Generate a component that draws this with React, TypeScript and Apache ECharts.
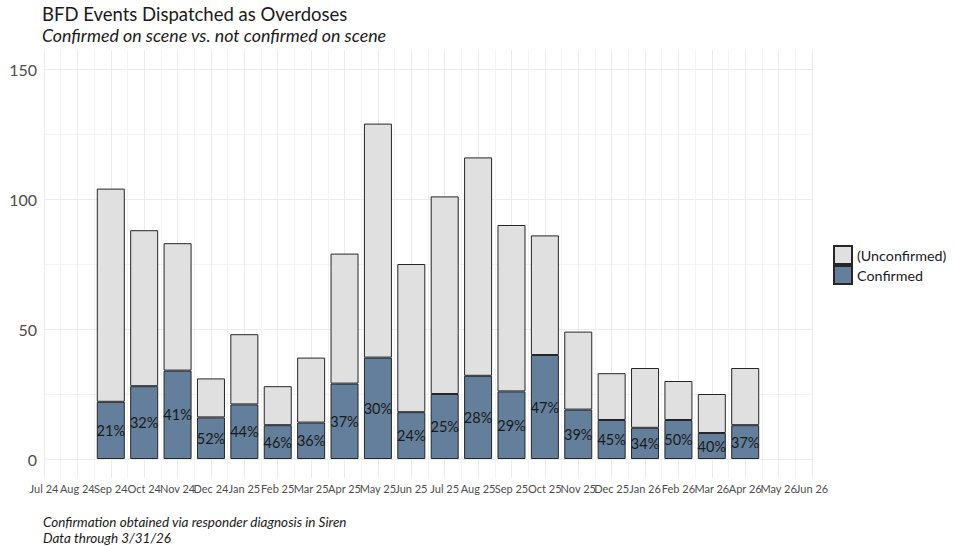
import React, { useEffect, useRef } from "react";
import * as echarts from "echarts";

const monthLabels = [
  "Jul 24", "Aug 24", "Sep 24", "Oct 24", "Nov 24", "Dec 24",
  "Jan 25", "Feb 25", "Mar 25", "Apr 25", "May 25", "Jun 25",
  "Jul 25", "Aug 25", "Sep 25", "Oct 25", "Nov 25", "Dec 25",
  "Jan 26", "Feb 26", "Mar 26", "Apr 26", "May 26", "Jun 26",
];

const barMonths = [
  "Sep 24", "Oct 24", "Nov 24", "Dec 24", "Jan 25", "Feb 25", "Mar 25",
  "Apr 25", "May 25", "Jun 25", "Jul 25", "Aug 25", "Sep 25", "Oct 25",
  "Nov 25", "Dec 25", "Jan 26", "Feb 26", "Mar 26", "Apr 26",
];

const confirmed = [22, 28, 34, 16, 21, 13, 14, 29, 39, 18, 25, 32, 26, 40, 19, 15, 12, 15, 10, 13];
const unconfirmed = [82, 60, 49, 15, 27, 15, 25, 50, 90, 57, 76, 84, 64, 46, 30, 18, 23, 15, 15, 22];

const yMin = 0;
const yMax = 150;
const yInterval = 50;

const titleText = "BFD Events Dispatched as Overdoses";
const subtitleText = "Confirmed on scene vs. not confirmed on scene";
const captionLines = ["Confirmation obtained via responder diagnosis in Siren", "Data through 3/31/26"];

export default function App() {
  const ref = useRef<HTMLDivElement>(null);

  useEffect(() => {
    if (!ref.current) return;
    const chart = echarts.init(ref.current, null, { renderer: "svg" });
    const font = "Lato";
    const pct = confirmed.map((c, i) => Math.round((c / (c + unconfirmed[i])) * 100));
    const confByMonth = monthLabels.map((m) => {
      const i = barMonths.indexOf(m);
      return i >= 0 ? confirmed[i] : "-";
    });
    const uncByMonth = monthLabels.map((m) => {
      const i = barMonths.indexOf(m);
      return i >= 0 ? unconfirmed[i] : "-";
    });
    const pctByMonth = monthLabels.map((m) => {
      const i = barMonths.indexOf(m);
      return i >= 0 ? pct[i] : null;
    });
    const last = monthLabels.length - 1;

    const option: any = {
      animation: false,
      backgroundColor: "#ffffff",
      textStyle: { fontFamily: font },
      title: {
        left: 42,
        top: 4,
        padding: 0,
        text: titleText,
        textStyle: { fontFamily: font, fontSize: 18.5, fontWeight: "normal", color: "#1a1a1a" },
        subtext: subtitleText,
        subtextStyle: { fontFamily: font, fontSize: 17.8, fontStyle: "italic", color: "#1a1a1a" },
        itemGap: 3,
      },
      legend: {
        orient: "vertical",
        left: 833,
        top: 245,
        padding: 0,
        itemWidth: 18,
        itemHeight: 18,
        itemGap: 0,
        icon: "rect",
        data: ["(Unconfirmed)", "Confirmed"],
        textStyle: { fontFamily: font, fontSize: 14.3, color: "#1a1a1a", lineHeight: 18 },
      },
      grid: [
        { left: 44, right: 144, top: 50, bottom: 68, containLabel: false, outerBoundsMode: "none" },
        { left: 44, right: 144, top: 69, bottom: 87, containLabel: false, outerBoundsMode: "none" },
      ],
      xAxis: [
        {
          type: "value",
          gridIndex: 0,
          min: 0,
          max: last,
          interval: 1,
          axisLine: { show: false },
          axisTick: { show: false },
          axisLabel: { show: false },
          splitLine: { show: true, lineStyle: { color: "#ebebeb", width: 1 } },
          minorTick: { show: false, splitNumber: 2 },
          minorSplitLine: { show: true, lineStyle: { color: "#f3f3f3", width: 1 } },
        },
        {
          type: "category",
          gridIndex: 1,
          data: monthLabels,
          boundaryGap: false,
          axisLine: { show: false },
          axisTick: { show: false },
          splitLine: { show: false },
          axisLabel: {
            interval: 0,
            fontFamily: font,
            fontSize: 11,
            color: "#4d4d4d",
            margin: 24,
          },
        },
      ],
      yAxis: [
        {
          type: "value",
          gridIndex: 0,
          min: 0,
          max: 1,
          show: false,
          splitLine: { show: false },
        },
        {
          type: "value",
          gridIndex: 1,
          min: yMin,
          max: yMax,
          interval: yInterval,
          axisLine: { show: false },
          axisTick: { show: false },
          axisLabel: { fontFamily: font, fontSize: 16, color: "#4d4d4d", margin: 7 },
          splitLine: { show: true, lineStyle: { color: "#ebebeb", width: 1 } },
          minorTick: { show: false, splitNumber: 2 },
          minorSplitLine: { show: true, lineStyle: { color: "#f3f3f3", width: 1 } },
        },
      ],
      series: [
        {
          type: "scatter",
          xAxisIndex: 0,
          yAxisIndex: 0,
          data: [],
          silent: true,
        },
        {
          name: "Confirmed",
          type: "bar",
          stack: "total",
          xAxisIndex: 1,
          yAxisIndex: 1,
          barWidth: 28,
          data: confByMonth,
          itemStyle: { color: "#637f9c", borderColor: "#262626", borderWidth: 1 },
          label: {
            show: true,
            position: "inside",
            fontFamily: font,
            fontSize: 14.5,
            color: "#1a1a1a",
            formatter: (p: any) => (pctByMonth[p.dataIndex] == null ? "" : pctByMonth[p.dataIndex] + "%"),
          },
        },
        {
          name: "(Unconfirmed)",
          type: "bar",
          stack: "total",
          xAxisIndex: 1,
          yAxisIndex: 1,
          barWidth: 28,
          data: uncByMonth,
          itemStyle: { color: "#e0e0e0", borderColor: "#262626", borderWidth: 1 },
        },
      ],
      graphic: [
        {
          type: "text",
          left: 43,
          top: 514,
          style: {
            text: captionLines.join("\n"),
            fontFamily: font,
            fontSize: 13.5,
            fontStyle: "italic",
            fill: "#1a1a1a",
            lineHeight: 16,
          },
        },
      ],
    };

    chart.setOption(option);
    return () => chart.dispose();
  }, []);

  return (
    <div
      ref={ref}
      style={{ position: "absolute", left: 0, top: 0, width: 956, height: 546 }}
    />
  );
}
